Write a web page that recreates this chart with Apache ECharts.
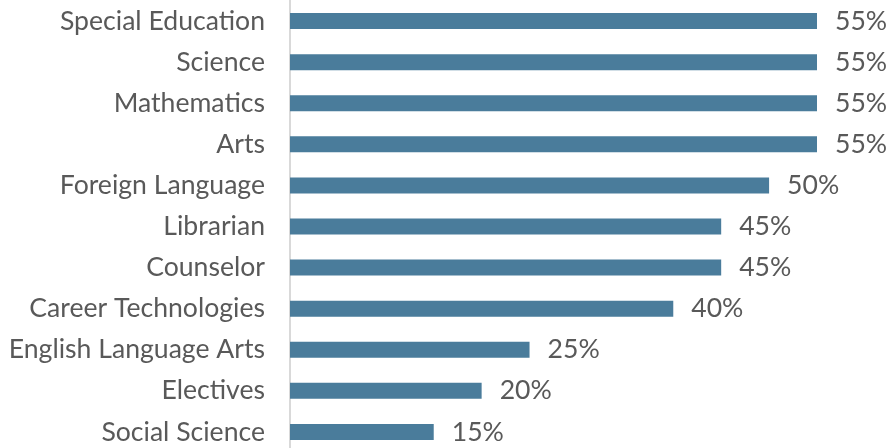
<!DOCTYPE html>
<html>
<head>
<meta charset="utf-8">
<script src="https://cdn.jsdelivr.net/npm/echarts@6/dist/echarts.min.js"></script>
<style>
  html, body { margin: 0; padding: 0; background: #ffffff; overflow: hidden; }
  #chart { width: 889px; height: 460px; }
</style>
</head>
<body>
<div id="chart"></div>
<script>
// Subjects listed bottom-to-top (category axis runs upward)
const subjects = [
  'Social Science',
  'Electives',
  'English Language Arts',
  'Career Technologies',
  'Counselor',
  'Librarian',
  'Foreign Language',
  'Arts',
  'Mathematics',
  'Science',
  'Special Education'
];

// Share of respondents, percent
const shares = [15, 20, 25, 40, 45, 45, 50, 55, 55, 55, 55];

const textColor = '#595959';
const barColor = '#4a7c9b';

const chart = echarts.init(document.getElementById('chart'), null, { renderer: 'canvas' });

chart.setOption({
  animation: false,
  grid: { left: 290, top: 0.5, width: 527, height: 452 },
  xAxis: {
    type: 'value',
    min: 0,
    max: 55,
    show: false
  },
  yAxis: {
    type: 'category',
    data: subjects,
    axisLine: { show: true, lineStyle: { color: '#d9d9d9', width: 2 } },
    axisTick: { show: false },
    axisLabel: {
      margin: 25,
      color: textColor,
      fontFamily: 'Lato',
      fontSize: 26.6
    }
  },
  series: [{
    type: 'bar',
    data: shares,
    barWidth: 16,
    itemStyle: { color: barColor },
    label: {
      show: true,
      position: 'right',
      distance: 18,
      color: textColor,
      fontFamily: 'Lato',
      fontSize: 26.6,
      formatter: p => p.value + '%'
    }
  }]
});
</script>
</body>
</html>
